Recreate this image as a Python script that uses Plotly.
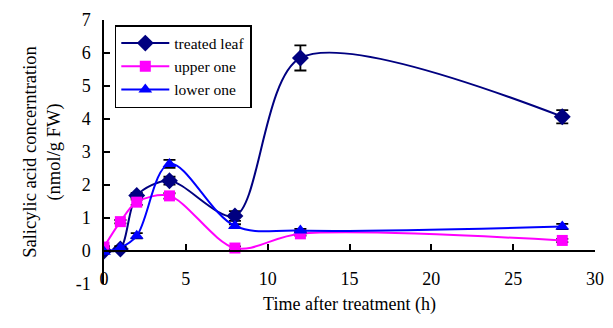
import plotly.graph_objects as go

time_h = [0, 1, 2, 4, 8, 12, 28]
treated_leaf = [0.0, 0.06, 1.68, 2.13, 1.06, 5.85, 4.07]
treated_err = [0.03, 0.05, 0.08, 0.12, 0.15, 0.38, 0.2]
upper_one = [0.12, 0.89, 1.48, 1.67, 0.09, 0.52, 0.32]
upper_err = [0.03, 0.05, 0.08, 0.08, 0.05, 0.05, 0.05]
lower_one = [-0.02, 0.1, 0.46, 2.64, 0.76, 0.62, 0.74]
lower_err = [0.03, 0.05, 0.08, 0.12, 0.05, 0.05, 0.08]

y_tick_vals = [-1, 0, 1, 2, 3, 4, 5, 6, 7]
y_tick_text = ["-1", "0", "1", "2", "3", "4", "5", "6", "7"]
x_tick_vals = [0, 5, 10, 15, 20, 25, 30]
x_tick_text = ["0", "5", "10", "15", "20", "25", "30"]

series = [
    ("treated leaf", treated_leaf, treated_err, "#000080", "diamond", 13, 0.85),
    ("upper one", upper_one, upper_err, "#FF00FF", "square", 11, 0.9),
    ("lower one", lower_one, lower_err, "#0000FF", "triangle-up", 12, 1.0),
]

fig = go.Figure()
for name, vals, err, color, sym, msize, smooth in series:
    fig.add_trace(go.Scatter(
        x=time_h, y=vals, name=name, mode="lines+markers",
        line=dict(color=color, width=2, shape="spline", smoothing=smooth),
        marker=dict(symbol=sym, size=msize, color=color),
        error_y=dict(type="data", array=err, visible=True, color="black",
                     thickness=1.8, width=6),
    ))

font_family = "Liberation Serif"
fig.update_layout(
    width=613, height=328,
    margin=dict(l=104, r=18, t=20, b=44),
    paper_bgcolor="white", plot_bgcolor="white",
    font=dict(family=font_family, size=18, color="black"),
    showlegend=True,
    legend=dict(x=0.022, y=0.981, xanchor="left", yanchor="top",
                bordercolor="black", borderwidth=1.5, bgcolor="white",
                font=dict(size=15.5, family=font_family),
                tracegroupgap=0, itemwidth=48),
    xaxis=dict(range=[0, 30], tickmode="array", tickvals=x_tick_vals, ticktext=x_tick_text,
               showgrid=False, zeroline=False,
               showline=True, linecolor="black", linewidth=1.5,
               ticks="inside", ticklen=6, tickcolor="black", tickwidth=1.5,
               anchor="free", position=0.125, ticklabelstandoff=12,
               automargin=False,
               title=dict(text="Time after treatment (h)", font=dict(size=18), standoff=8)),
    yaxis=dict(range=[-1, 7], tickmode="array", tickvals=y_tick_vals, ticktext=y_tick_text,
               showgrid=False, zeroline=False,
               showline=True, linecolor="black", linewidth=1.5,
               ticks="inside", ticklen=6, tickcolor="black", tickwidth=1.5,
               ticklabelstandoff=8, automargin=False,
               title=dict(text="Salicylic acid concerntration<br>(nmol/g FW)",
                          font=dict(size=18.5), standoff=10)),
)

fig.write_html("out.html", config={"displayModeBar": False},
               post_script="document.body.style.margin='0';")
